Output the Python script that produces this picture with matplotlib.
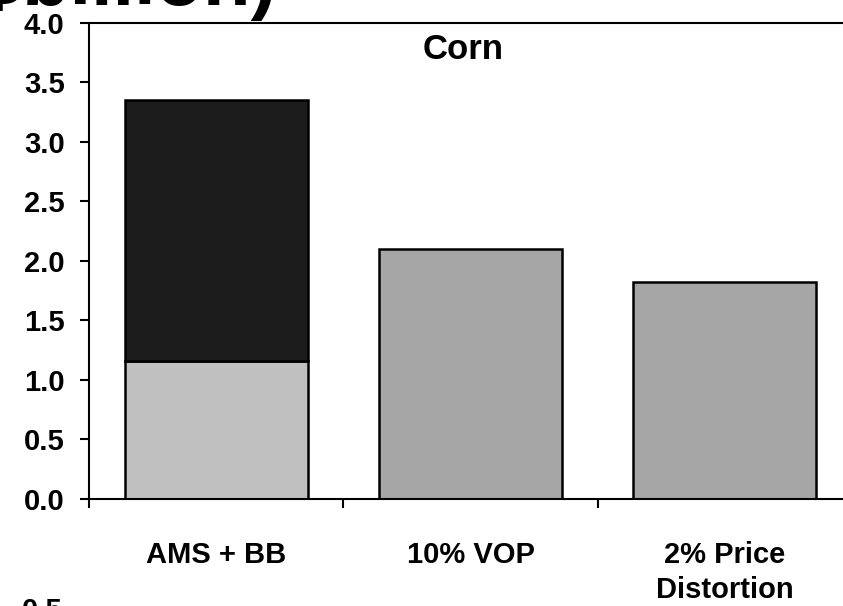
import matplotlib
matplotlib.use("Agg")
import matplotlib.pyplot as plt

# data (US$ billion)
categories = ["AMS + BB", "10% VOP", "2% Price\nDistortion"]
base_vals = [1.16, 2.10, 1.82]      # lower / single segment
top_vals = [2.19, 0.0, 0.0]         # dark stacked part (AMS + BB only)
base_colors = ["#c0c0c0", "#a6a6a6", "#a6a6a6"]
top_color = "#1c1c1c"
yticks = [0.0, 0.5, 1.0, 1.5, 2.0, 2.5, 3.0, 3.5, 4.0]

plt.rcParams.update({
    "font.family": ["Liberation Sans", "DejaVu Sans"],
    "font.weight": "bold",
    "font.size": 21,
})

fig = plt.figure(figsize=(8.43, 6.06), dpi=100)
ax = fig.add_axes([89 / 843, 1 - 499 / 606, 763 / 843, 476.5 / 606])

x = [i + 0.5 for i in range(len(categories))]
ax.bar(x, base_vals, width=0.72, color=base_colors, edgecolor="black", linewidth=1.8, zorder=2)
ax.bar(x[:1], top_vals[:1], bottom=base_vals[:1], width=0.72, color=top_color,
       edgecolor="black", linewidth=1.8, zorder=2)

ax.set_xlim(0, 3)
ax.set_ylim(0, 4.0)
ax.set_yticks(yticks)
ax.set_yticklabels([f"{v:.1f}" for v in yticks], fontweight="bold")
ax.tick_params(axis="y", length=6.5, width=1.5, pad=11)

ax.set_xticks(x)
ax.set_xticklabels(categories, fontweight="bold", linespacing=1.35)
ax.set_xticks([0, 1, 2, 3], minor=True)
ax.tick_params(axis="x", which="major", length=0, pad=30)
ax.tick_params(axis="x", which="minor", length=6.5, width=1.5)

for s in ["left", "bottom", "top", "right"]:
    ax.spines[s].set_linewidth(1.5)

ax.text(1.47, 3.77, "Corn", ha="center", va="center", fontsize=25, fontweight="bold")

# fragments of neighbouring panels cut off by the crop
fig.text(277 / 843, 1 - 5 / 606, r"(\$billion)", ha="right", va="baseline",
         fontsize=56, fontweight="bold")
fig.text(63 / 843, 1 - 597 / 606, "0.5", ha="right", va="top", fontsize=21, fontweight="bold")

fig.savefig("out.png", dpi=100)
